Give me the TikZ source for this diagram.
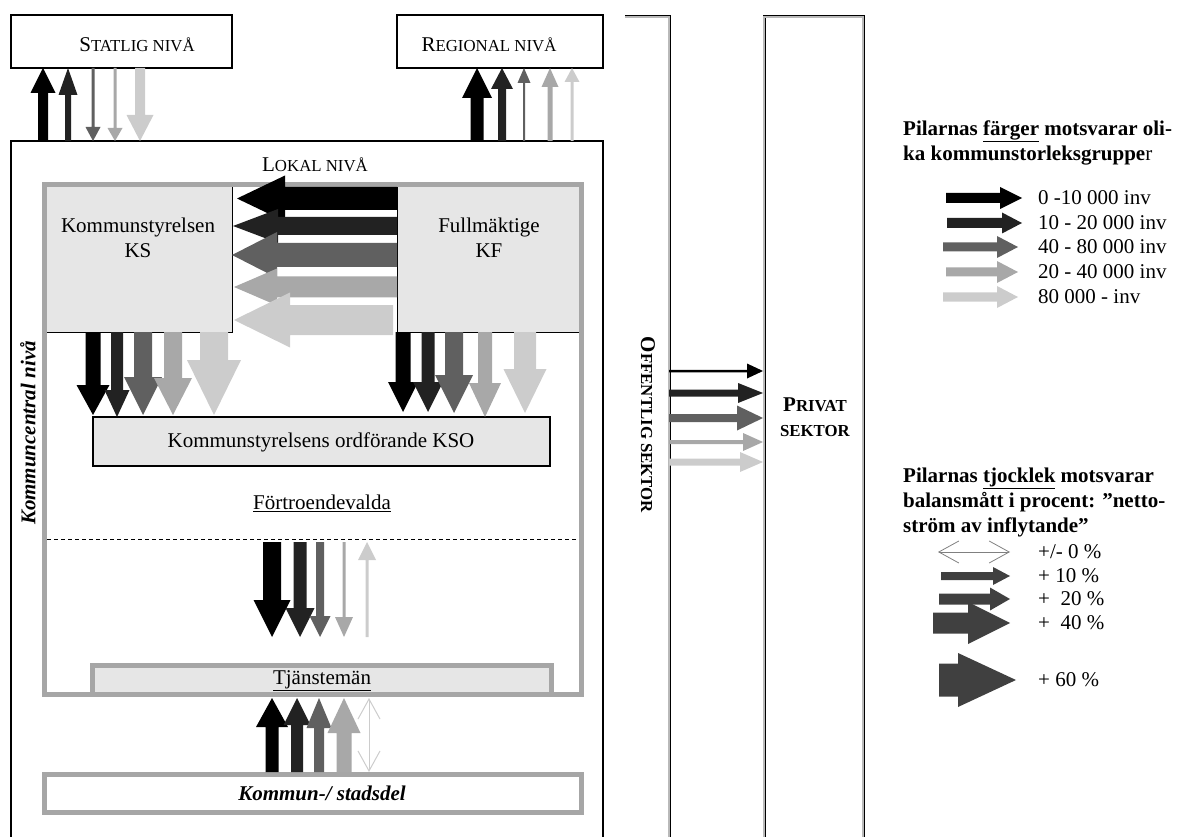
\documentclass[tikz,border=0pt]{standalone}
\usepackage{fontspec}
\setmainfont{Liberation Serif}
\usetikzlibrary{arrows.meta}
\definecolor{colA}{HTML}{000000}
\definecolor{colB}{HTML}{222222}
\definecolor{colC}{HTML}{606060}
\definecolor{colD}{HTML}{A8A8A8}
\definecolor{colE}{HTML}{CCCCCC}
\definecolor{colT}{HTML}{404040}
\definecolor{boxfill}{HTML}{E6E6E6}
\definecolor{bordergray}{HTML}{A6A6A6}
\definecolor{openarr}{HTML}{808080}
\newcommand{\fsc}[2]{#1{\fontsize{16.8}{20}\selectfont #2}}
% vertical block arrow: colour, x, y start, y head base, y tip, shaft width, head width
\newcommand{\vblk}[7]{\fill[#1] ({#2-#6/2},#3) -- ({#2-#6/2},#4) -- ({#2-#7/2},#4) -- (#2,#5) -- ({#2+#7/2},#4) -- ({#2+#6/2},#4) -- ({#2+#6/2},#3) -- cycle;}
% horizontal block arrow: colour, y, x start, x head base, x tip, shaft width, head width
\newcommand{\hblk}[7]{\fill[#1] (#3,{#2-#6/2}) -- (#4,{#2-#6/2}) -- (#4,{#2-#7/2}) -- (#5,#2) -- (#4,{#2+#7/2}) -- (#4,{#2+#6/2}) -- (#3,{#2+#6/2}) -- cycle;}
\tikzset{
  txt/.style={inner sep=0pt, font=\fontsize{21}{25}\selectfont},
  thinbox/.style={draw=black, line width=1.2pt},
  graybox/.style={draw=bordergray, line width=5pt},
  dbl/.style={draw=black, line width=0.9pt, double=gray!55, double distance=1.2pt},
  openboth/.style={line width=0.9pt, {Straight Barb[length=20pt,width=22pt]}-{Straight Barb[length=20pt,width=22pt]}}
}
\begin{document}
\begin{tikzpicture}[x=1pt,y=-1pt]
\useasboundingbox (0,0) rectangle (1184,837);

% ---- top level boxes
\draw[thinbox] (11,15) rectangle (232,68);
\node[txt] (statlig) at (137,45) {\fsc{S}{TATLIG NIVÅ}};
\draw[thinbox] (397,15) rectangle (603,68);
\node[txt] (regional) at (489,45) {\fsc{R}{EGIONAL NIVÅ}};

% ---- lokal box
\draw[thinbox] (11,840) -- (11,141) -- (603,141) -- (603,840);
\node[txt] (lokal) at (315,165) {\fsc{L}{OKAL NIVÅ}};

% ---- offentlig / privat sektor
\draw[dbl] (625,17) -- (669,17) -- (669,840);
\draw[dbl] (764,840) -- (764,17) -- (863,17) -- (863,840);
\node[txt, rotate=-90] (offentlig) at (648,425) {\textbf{\fsc{O}{FFENTLIG SEKTOR}}};
\node[txt, align=center] (privat) at (815,417) {\textbf{\fsc{P}{RIVAT}}\\\textbf{\fsc{}{SEKTOR}}};

% ---- kommuncentral nivå
\filldraw[fill=boxfill, draw=black, line width=1pt] (44,185) rectangle (232,332);
\filldraw[fill=boxfill, draw=black, line width=1pt] (397,185) rectangle (581,332);
\draw[graybox] (44,185) rectangle (581,694);
\node[txt, align=center] (ks) at (138,237.5) {Kommunstyrelsen\\KS};
\node[txt, align=center] (kf) at (489,237.5) {Fullmäktige\\KF};
\filldraw[fill=boxfill, draw=black, line width=1.2pt] (93,417) rectangle (550,466);
\node[txt] (kso) at (321,442) {Kommunstyrelsens ordförande KSO};
\node[txt] (fortroende) at (322,503) {\underline{Förtroendevalda}};
\draw[line width=1pt, dash pattern=on 4pt off 3pt] (47,539) -- (578,539);
\filldraw[fill=boxfill, draw=bordergray, line width=5pt] (92.5,665.5) rectangle (551.5,694);
\node[txt] (tjanst) at (322,681) {\underline{Tjänstemän}};
\node[txt, rotate=90] (kcn) at (28,433) {\textbf{\textit{Kommuncentral nivå}}};

% ---- kommun-/stadsdel
\filldraw[fill=white, draw=bordergray, line width=5pt] (44,774.5) rectangle (581,812.5);
\node[txt] (kommun) at (322,793) {\textbf{\textit{Kommun-/ stadsdel}}};

% ---- arrows lokal <-> statlig
\vblk{colA}{43}{141}{93}{68}{10}{25}
\vblk{colB}{68}{141}{95}{68}{6}{19}
\vblk{colC}{93}{68}{127}{141}{3}{15}
\vblk{colD}{115}{68}{128}{141}{3}{15}
\vblk{colE}{140}{68}{115}{141}{10}{27}

% ---- arrows lokal -> regional
\vblk{colA}{477}{141}{98}{68}{13}{30}
\vblk{colB}{502}{141}{89}{68}{8}{22}
\vblk{colC}{524}{141}{83}{68}{2}{13}
\vblk{colD}{550}{141}{87}{68}{5}{17}
\vblk{colE}{572}{141}{82}{68}{3}{15}

% ---- arrows KF -> KS
\hblk{colA}{198.5}{397}{285}{237}{23}{46}
\hblk{colB}{226}{397}{278}{233}{18}{34}
\hblk{colC}{255}{397}{277}{232}{24}{46}
\hblk{colD}{287}{397}{277}{234}{21}{37}
\hblk{colE}{320}{393}{290}{234}{30}{55}

% ---- arrows KS -> KSO
\vblk{colA}{93}{332}{385}{415}{15}{33}
\vblk{colB}{117}{332}{390}{417}{12}{25}
\vblk{colC}{143}{332}{377}{415}{18}{38}
\vblk{colD}{173}{332}{378}{415}{18}{38}
\vblk{colE}{214}{332}{360}{415}{28}{54}

% ---- arrows KF -> KSO
\vblk{colA}{403}{332}{382}{412}{15}{30}
\vblk{colB}{428}{332}{382}{412}{13}{30}
\vblk{colC}{454}{332}{375}{413}{18}{38}
\vblk{colD}{485}{332}{383}{417}{14}{32}
\vblk{colE}{525}{332}{369}{413}{22}{43}

% ---- arrows förtroendevalda -> tjänstemän
\vblk{colA}{272}{542}{600}{637}{18}{37}
\vblk{colB}{300}{542}{608}{637}{13}{29}
\vblk{colC}{320}{542}{616}{637}{8}{21}
\vblk{colD}{344}{542}{617}{637}{3}{18}
\vblk{colE}{367}{637}{560}{542}{3}{18}

% ---- arrows kommun -> tjänstemän
\vblk{colA}{272}{772}{727}{698}{13}{32}
\vblk{colB}{297}{772}{725}{698}{12}{27}
\vblk{colC}{319}{772}{728}{698}{10}{25}
\vblk{colD}{344}{772}{733}{698}{15}{33}
\coordinate (n5a) at (369,772);
\coordinate (n5b) at (369,698);
\draw[openboth, draw=colE, line width=1pt] (n5a) -- (n5b);

% ---- arrows offentlig -> privat
\hblk{colA}{371}{669}{747}{763}{2.5}{15}
\hblk{colB}{393}{669}{738}{763}{7}{20}
\hblk{colC}{418}{669}{737}{763}{8}{25}
\hblk{colD}{442}{669}{743}{763}{4}{18}
\hblk{colE}{462}{669}{740}{763}{7}{20}

% ---- legend: colours
\node[txt, anchor=west, align=left] (leg1) at (903,142.5) {\textbf{Pilarnas \underline{färger} motsvarar oli-}\\\textbf{ka kommunstorleksgruppe}r};
\hblk{colA}{198}{946}{1000}{1022}{10}{22}
\hblk{colB}{223}{947}{1002}{1022}{10}{21}
\hblk{colC}{247}{943}{997}{1018}{9}{22}
\hblk{colD}{272}{946}{997}{1018}{9}{22}
\hblk{colE}{297}{943}{997}{1018}{9}{22}
\node[txt, anchor=west] (la) at (1038,198) {0 -10 000 inv};
\node[txt, anchor=west] (lb) at (1038,223) {10 - 20 000 inv};
\node[txt, anchor=west] (lc) at (1038,247) {40 - 80 000 inv};
\node[txt, anchor=west] (ld) at (1038,272) {20 - 40 000 inv};
\node[txt, anchor=west] (le) at (1038,297) {80 000 - inv};

% ---- legend: thickness
\node[txt, anchor=west, align=left] (leg2) at (903,502) {\textbf{Pilarnas \underline{tjocklek} motsvarar}\\\textbf{balansmått i procent: ”netto-}\\\textbf{ström av inflytande”}};
\coordinate (t0a) at (938,552);
\coordinate (t0b) at (1010,552);
\draw[openboth, draw=openarr, line width=0.8pt] (t0a) -- (t0b);
\hblk{colT}{576}{941}{993}{1010}{8}{18}
\hblk{colT}{599}{939}{990}{1010}{11}{23}
\hblk{colT}{623}{933}{968}{1010}{21}{42}
\hblk{colT}{680}{939}{958}{1016}{33}{54}
\node[txt, anchor=west] (ta) at (1038,552) {+/- 0 \%};
\node[txt, anchor=west] (tb) at (1038,576) {+ 10 \%};
\node[txt, anchor=west] (tc) at (1038,599) {+\ \ 20 \%};
\node[txt, anchor=west] (td) at (1038,623) {+\ \ 40 \%};
\node[txt, anchor=west] (te) at (1038,680) {+ 60 \%};
\end{tikzpicture}
\end{document}
